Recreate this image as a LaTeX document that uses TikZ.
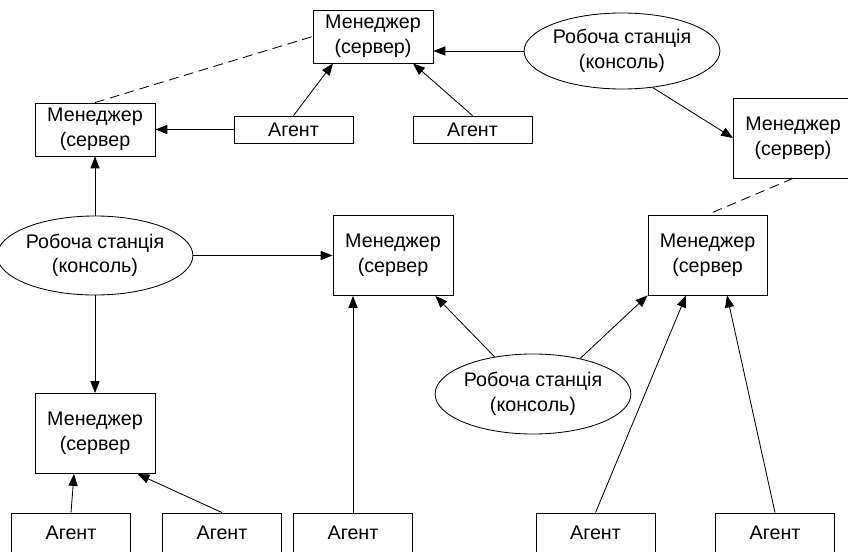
\documentclass[tikz,border=0pt]{standalone}
\usepackage{fontspec}
\setmainfont{Liberation Sans}
\usetikzlibrary{shapes.geometric,arrows.meta,calc}

\tikzset{
  mgr/.style={draw, rectangle, minimum width=3cm, minimum height=2cm, inner sep=0pt, align=center},
  agent/.style={draw, rectangle, minimum width=2.975cm, minimum height=0.675cm, inner sep=0pt},
  ws/.style={draw, ellipse, minimum width=4.45cm, minimum height=2cm, inner sep=0pt, align=center},
  link/.style={-{Triangle[length=8.5pt,width=6.5pt]}},
  peer/.style={dash pattern=on 7pt off 4pt}
}

\begin{document}
\begin{tikzpicture}[x=0.025cm,y=-0.025cm,line width=0.6pt,font=\fontsize{14}{17.5}\selectfont]
\useasboundingbox (0,0) rectangle (848,552);
\clip (0,0) rectangle (848,552);

% Managers (servers)
\node[mgr,minimum height=1.325cm] (m1) at (373,36.5) {Менеджер\\(сервер)};
\node[mgr,minimum height=1.325cm] (m2) at (95,129.5) {Менеджер\\(сервер};
\node[mgr,minimum width=2.975cm] (m3) at (793,138) {Менеджер\\(сервер)};
\node[mgr,minimum width=2.975cm] (m4) at (707.5,255) {Менеджер\\(сервер};
\node[mgr] (m5) at (393,255.5) {Менеджер\\(сервер};
\node[mgr] (m6) at (95,433.5) {Менеджер\\(сервер};

% Workstations (consoles)
\node[ws,minimum width=4.775cm,minimum height=1.9cm] (w1) at (622,51) {Робоча станція\\(консоль)};
\node[ws,minimum height=1.975cm] (w2) at (95,255.5) {Робоча станція\\(консоль)};
\node[ws] (w3) at (533,394) {Робоча станція\\(консоль)};

% Agents
\node[agent] (a1) at (293.5,129.5) {Агент};
\node[agent] (a2) at (472.5,129.5) {Агент};
\node[agent,minimum height=1cm] (a3) at (71,533) {Агент};
\node[agent,minimum height=1cm] (a4) at (222,533) {Агент};
\node[agent,minimum height=1cm] (a5) at (353,533) {Агент};
\node[agent,minimum height=1cm] (a6) at (595.5,533) {Агент};
\node[agent,minimum height=1cm] (a7) at (775,533) {Агент};

% Manager to manager links (dashed)
\draw[peer] (m2.north) -- (m1.west);
\draw[peer] (m3.south) -- (m4.north);

% Top part
\draw[link] (a1.north) -- ($(m1.south)+(-40,0)$);
\draw[link] (a2.north) -- ($(m1.south)+(40,0)$);
\draw[link] (a1.west) -- (a1.west -| m2.east);
\draw[link] (w1.west) -- (w1.west -| m1.east);
\draw[link] (w1.310) -- (m3.west);

% Left workstation
\draw[link] (w2.north) -- (m2.south);
\draw[link] (w2.east) -- (w2.east -| m5.west);
\draw[link] (w2.south) -- (m6.north);

% Bottom agents
\draw[link] (a3.north) -- ($(m6.south)+(-21,0)$);
\draw[link] (a4.north) -- ($(m6.south east)+(-18,0)$);
\draw[link] (a5.north) -- (a5.north |- m5.south);
\draw[link] (a6.north) -- ($(m4.south)+(-21.5,0)$);
\draw[link] (a7.north) -- ($(m4.south)+(19.5,0)$);

% Middle workstation
\draw[link] (w3.136) -- ($(m5.south east)+(-18,0)$);
\draw[link] (w3.37) -- (m4.south west);

\end{tikzpicture}
\end{document}
